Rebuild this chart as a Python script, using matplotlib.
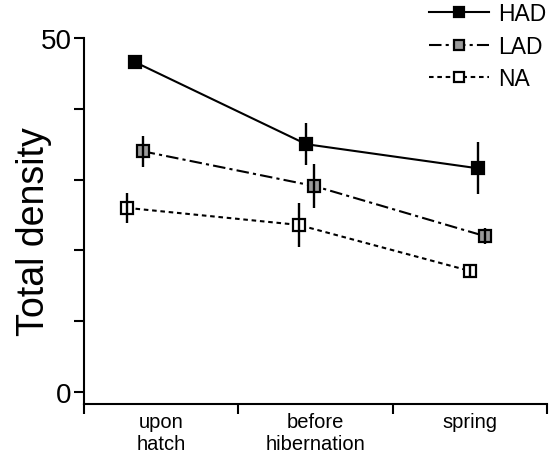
import numpy as np
from matplotlib import pyplot as plt

plt.rcParams['font.family'] = ['Liberation Sans', 'DejaVu Sans']

# categories and where the groups sit on the x axis
categories = ['upon\nhatch', 'before\nhibernation', 'spring']
x_base = np.array([0.33, 1.44, 2.55])

# mean total density and error
had = [46.6, 35.0, 31.6]
had_err = [0.4, 3.0, 3.7]
lad = [34.0, 29.1, 22.0]
lad_err = [2.2, 3.1, 1.1]
na = [26.0, 23.6, 17.1]
na_err = [2.1, 3.1, 1.0]

fig = plt.figure(figsize=(5.49, 4.64), dpi=100)
ax = fig.add_axes([84/549, 1 - 405/464, (547-84)/549, (405-39)/464])

series = [
    ('HAD', had, had_err, 0.0, '-', 'black'),
    ('LAD', lad, lad_err, 0.05, (0, (6, 2, 1.5, 2)), '#9a9a9a'),
    ('NA', na, na_err, -0.05, (0, (2.2, 1.8)), 'white'),
]
for name, y, err, off, ls, face in series:
    x = x_base + off
    ax.plot(x, y, linestyle=ls, color='black', lw=1.5, marker='s', ms=8.5,
            mfc=face, mec='black', mew=1.6, label=name, zorder=2)
    ax.errorbar(x, y, yerr=err, fmt='none', ecolor='black', elinewidth=1.7,
                capsize=0, zorder=3)

ax.set_xlim(0, 3)
ax.set_ylim(-1.7, 50)
ax.spines['top'].set_visible(False)
ax.spines['right'].set_visible(False)
ax.spines['left'].set_bounds(-1.7, 50)
for s in ['left', 'bottom']:
    ax.spines[s].set_linewidth(1.5)

ax.set_yticks([0, 10, 20, 30, 40, 50])
ax.set_yticklabels(['0', '', '', '', '', '50'], fontsize=20)
ax.set_xticks([0, 1, 2, 3])
ax.set_xticklabels([])
ax.set_xticks([0.5, 1.5, 2.5], minor=True)
ax.set_xticklabels(categories, minor=True, fontsize=14.5)
ax.tick_params(axis='both', which='major', direction='out', length=7, width=1.5, pad=2)
ax.tick_params(axis='x', which='minor', length=0, pad=6)
ax.set_ylabel('Total density', fontsize=27)
ax.yaxis.set_label_coords(-0.07, 0.475)

fig.legend(loc='upper right', bbox_to_anchor=(546/549, 1 - 3/464), frameon=False,
           fontsize=16.5, handlelength=2.6, borderpad=0, borderaxespad=0,
           labelspacing=0.42, handletextpad=0.4, markerscale=0.85)

fig.savefig('out.png', dpi=100)
